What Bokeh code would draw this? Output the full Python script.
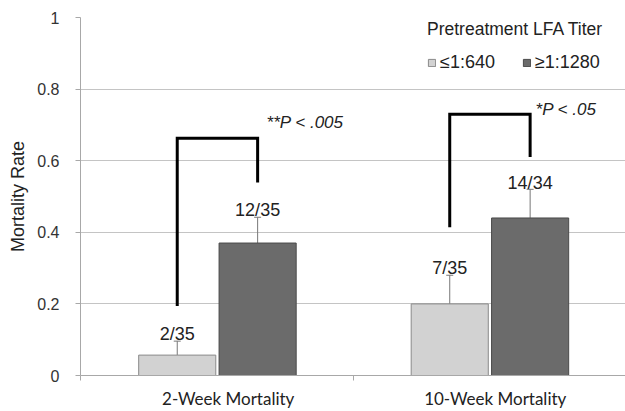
from bokeh.plotting import figure
from bokeh.models import (FixedTicker, Whisker, TeeHead, ColumnDataSource, Legend,
                          LegendItem, Range1d)
from bokeh.core.properties import value
from bokeh.embed import file_html
from bokeh.resources import INLINE

# ---- data ----
categories = ["2-Week Mortality", "10-Week Mortality"]
series_names = ["\u22641:640", "\u22651:1280"]
low_titer = [0.057, 0.20]
high_titer = [0.37, 0.44]
low_err_top = [0.096, 0.28]
high_err_top = [0.442, 0.52]
low_labels = ["2/35", "7/35"]
high_labels = ["12/35", "14/34"]
bracket_top = [0.663, 0.73]
bracket_low_end = [0.194, 0.414]
bracket_high_end = [0.539, 0.61]
p_labels = ["**P < .005", "*P < .05"]
y_ticks = [0, 0.2, 0.4, 0.6, 0.8, 1]
y_tick_labels = ["0", "0.2", "0.4", "0.6", "0.8", "1"]
legend_title = "Pretreatment LFA Titer"

# ---- layout ----
LOW_OFF, HIGH_OFF, BAR_W = -0.145, 0.15, 0.283
P_DX = [0.033, 0.02]
P_DY = [0.043, 0.014]
LABEL_DX = [0.042, 0.022]
COUNT_GAP = 0.019
centers = [i + 0.5 for i in range(len(categories))]
low_x = [c + LOW_OFF for c in centers]
high_x = [c + HIGH_OFF for c in centers]
label_x = [c + d for c, d in zip(centers, LABEL_DX)]

FONT = "Liberation Sans"
TXT = "#222222"

p = figure(width=625, height=411, x_range=Range1d(0, len(categories)), y_range=Range1d(0, 1),
           output_backend="svg", toolbar_location=None,
           min_border_left=80, min_border_right=0, min_border_top=17, min_border_bottom=34)
p.outline_line_color = None
p.background_fill_color = "white"

# grid
p.xgrid.grid_line_color = None
p.ygrid.grid_line_color = "#c4c4c4"
p.ygrid.grid_line_width = 1

# y axis
p.yaxis.ticker = FixedTicker(ticks=y_ticks)
p.yaxis.major_label_overrides = {float(t): l for t, l in zip(y_ticks, y_tick_labels)}
p.yaxis.axis_line_color = "#a8a8a8"
p.yaxis.major_tick_line_color = "#a8a8a8"
p.yaxis.major_tick_out = 5
p.yaxis.major_tick_in = 0
p.yaxis.minor_tick_line_color = None
p.yaxis.major_label_standoff = 16
p.yaxis.major_label_text_font = FONT
p.yaxis.major_label_text_font_size = "16px"
p.yaxis.major_label_text_color = "#333333"
p.yaxis.axis_label = "Mortality Rate"
p.yaxis.axis_label_text_font = FONT
p.yaxis.axis_label_text_font_size = "18px"
p.yaxis.axis_label_text_font_style = "normal"
p.yaxis.axis_label_text_color = TXT
p.yaxis.axis_label_standoff = 6

# x axis
p.xaxis.ticker = FixedTicker(ticks=label_x, minor_ticks=[0, 1, 2])
p.xaxis.major_label_overrides = {float(c): n for c, n in zip(label_x, categories)}
p.xaxis.axis_line_color = "#a8a8a8"
p.xaxis.major_tick_line_color = None
p.xaxis.major_tick_out = 0
p.xaxis.major_tick_in = 0
p.xaxis.minor_tick_line_color = "#a8a8a8"
p.xaxis.minor_tick_out = 5
p.xaxis.minor_tick_in = 0
p.xaxis.major_label_standoff = 7
p.xaxis.major_label_text_font = "Lato"
p.xaxis.major_label_text_font_size = "17px"
p.xaxis.major_label_text_color = TXT

src = ColumnDataSource(dict(
    low_x=low_x, high_x=high_x, low=low_titer, high=high_titer,
    low_err=low_err_top, high_err=high_err_top,
    low_lab=low_labels, high_lab=high_labels,
    low_lab_y=[e + COUNT_GAP for e in low_err_top],
    high_lab_y=[e + COUNT_GAP for e in high_err_top],
))

# error bars (upper only)
for xcol, base_col, top_col in [("low_x", "low", "low_err"), ("high_x", "high", "high_err")]:
    w = Whisker(source=src, base=xcol, lower=base_col, upper=top_col, dimension="height",
                line_color="#777777", line_width=1,
                upper_head=TeeHead(size=7, line_color="#777777", line_width=1),
                lower_head=None, level="underlay")
    p.add_layout(w)

r_low = p.vbar(x="low_x", top="low", width=BAR_W, source=src,
               fill_color="#d2d2d2", line_color="#8a8a8a", line_width=1)
r_high = p.vbar(x="high_x", top="high", width=BAR_W, source=src,
                fill_color="#6b6b6b", line_color="#4a4a4a", line_width=1)

# count labels
for xcol, ycol, lcol in [("low_x", "low_lab_y", "low_lab"), ("high_x", "high_lab_y", "high_lab")]:
    p.text(x=xcol, y=ycol, text=lcol, source=src, text_align="center",
           text_baseline="alphabetic",
           text_font=value(FONT), text_font_size="18px", text_color=TXT)

# significance brackets
xs = [[lx, lx, hx, hx] for lx, hx in zip(low_x, high_x)]
ys = [[lo, t, t, hi] for lo, t, hi in zip(bracket_low_end, bracket_top, bracket_high_end)]
p.multi_line(xs=xs, ys=ys, line_color="black", line_width=3, line_join="miter")

p.text(x=[hx + dx for hx, dx in zip(high_x, P_DX)],
       y=[t + dy for t, dy in zip(bracket_top, P_DY)],
       text=p_labels, text_align="left", text_baseline="middle",
       text_font=value(FONT), text_font_size="17px", text_font_style="italic",
       text_color=TXT)

# legend
legend = Legend(items=[LegendItem(label=series_names[0], renderers=[r_low]),
                       LegendItem(label=series_names[1], renderers=[r_high])],
                orientation="horizontal", title=legend_title,
                location=(347, 302), padding=0, margin=0, spacing=27,
                glyph_width=9, glyph_height=9, label_standoff=4,
                border_line_color=None, background_fill_alpha=0,
                title_text_font=FONT, title_text_font_size="17.5px",
                title_text_font_style="normal", title_text_color=TXT,
                title_standoff=12,
                label_text_font=FONT, label_text_font_size="18px",
                label_text_color=TXT)
p.add_layout(legend, "center")

open("out.html", "w").write(file_html(p, INLINE))
